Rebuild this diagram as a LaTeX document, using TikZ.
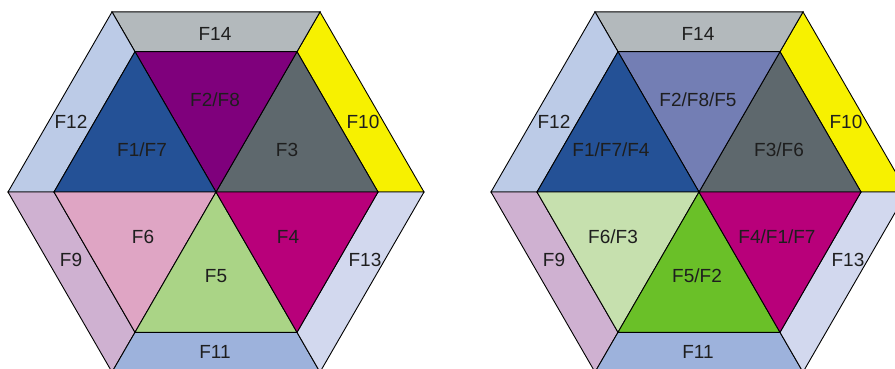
\documentclass[tikz,border=0pt]{standalone}
\usepackage{fontspec}
\setmainfont{Liberation Sans}
\definecolor{bandTop}{HTML}{B3B9BC}
\definecolor{bandUR}{HTML}{F7F100}
\definecolor{bandUL}{HTML}{BCCBE7}
\definecolor{bandLL}{HTML}{CFB1D1}
\definecolor{bandLR}{HTML}{D2D8EE}
\definecolor{bandBot}{HTML}{9DB2DC}
\definecolor{triUL}{HTML}{245196}
\definecolor{triR}{HTML}{5E686D}
\definecolor{triLR}{HTML}{B8007A}
\definecolor{labeltext}{HTML}{1E1E1E}
% left figure
\definecolor{leftTop}{HTML}{7F007C}
\definecolor{leftBot}{HTML}{AAD486}
\definecolor{leftLL}{HTML}{DFA5C4}
% right figure
\definecolor{rightTop}{HTML}{737EB4}
\definecolor{rightBot}{HTML}{6AC028}
\definecolor{rightLL}{HTML}{C6E0AE}

% Hexagon with outer band and six inner triangles, centred at (#1,192).
% #2 top triangle, #3 bottom triangle, #4 lower-left triangle
\newcommand\hexfigure[4]{%
  \coordinate (c)  at (#1,192);
  \coordinate (o0) at (#1+208,192);
  \coordinate (o1) at (#1+104,11.9);
  \coordinate (o2) at (#1-104,11.9);
  \coordinate (o3) at (#1-208,192);
  \coordinate (o4) at (#1-104,372.1);
  \coordinate (o5) at (#1+104,372.1);
  \coordinate (i0) at (#1+162,192);
  \coordinate (i1) at (#1+81,51.7);
  \coordinate (i2) at (#1-81,51.7);
  \coordinate (i3) at (#1-162,192);
  \coordinate (i4) at (#1-81,332.3);
  \coordinate (i5) at (#1+81,332.3);
  % outer band
  \filldraw[face,fill=bandUR]  (o0) -- (o1) -- (i1) -- (i0) -- cycle;
  \filldraw[face,fill=bandTop] (o1) -- (o2) -- (i2) -- (i1) -- cycle;
  \filldraw[face,fill=bandUL]  (o2) -- (o3) -- (i3) -- (i2) -- cycle;
  \filldraw[face,fill=bandLL]  (o3) -- (o4) -- (i4) -- (i3) -- cycle;
  \filldraw[face,fill=bandBot] (o4) -- (o5) -- (i5) -- (i4) -- cycle;
  \filldraw[face,fill=bandLR]  (o5) -- (o0) -- (i0) -- (i5) -- cycle;
  % inner triangles
  \filldraw[face,fill=triR]  (c) -- (i0) -- (i1) -- cycle;
  \filldraw[face,fill=#2]    (c) -- (i1) -- (i2) -- cycle;
  \filldraw[face,fill=triUL] (c) -- (i2) -- (i3) -- cycle;
  \filldraw[face,fill=#4]    (c) -- (i3) -- (i4) -- cycle;
  \filldraw[face,fill=#3]    (c) -- (i4) -- (i5) -- cycle;
  \filldraw[face,fill=triLR] (c) -- (i5) -- (i0) -- cycle;
}

\begin{document}
\begin{tikzpicture}[x=1pt,y=-1pt,
  face/.style={draw=black,line width=0.9pt,line join=miter},
  lbl/.style={text=labeltext,font=\fontsize{19}{19}\selectfont,inner sep=0pt,anchor=center}]
\useasboundingbox (0,0) rectangle (895,369);
\clip (0,0) rectangle (895,369);

\hexfigure{216}{leftTop}{leftBot}{leftLL}
\node[lbl] (lF14) at (215,34)  {F14};
\node[lbl] (lF12) at (71,122)  {F12};
\node[lbl] (lF10) at (363,122) {F10};
\node[lbl] (lF2)  at (215,100) {F2/F8};
\node[lbl] (lF1)  at (142,150) {F1/F7};
\node[lbl] (lF3)  at (287,150) {F3};
\node[lbl] (lF6)  at (143,237) {F6};
\node[lbl] (lF4)  at (288,237) {F4};
\node[lbl] (lF5)  at (216,276) {F5};
\node[lbl] (lF9)  at (71,260)  {F9};
\node[lbl] (lF13) at (365,260) {F13};
\node[lbl] (lF11) at (215,352) {F11};

\hexfigure{699}{rightTop}{rightBot}{rightLL}
\node[lbl] (rF14) at (698,34)  {F14};
\node[lbl] (rF12) at (554,122) {F12};
\node[lbl] (rF10) at (846,122) {F10};
\node[lbl] (rF2)  at (698,100) {F2/F8/F5};
\node[lbl] (rF1)  at (611,150) {F1/F7/F4};
\node[lbl] (rF3)  at (779,150) {F3/F6};
\node[lbl] (rF6)  at (613,237) {F6/F3};
\node[lbl] (rF4)  at (777,237) {F4/F1/F7};
\node[lbl] (rF5)  at (697,276) {F5/F2};
\node[lbl] (rF9)  at (554,260) {F9};
\node[lbl] (rF13) at (848,260) {F13};
\node[lbl] (rF11) at (698,352) {F11};
\end{tikzpicture}
\end{document}
